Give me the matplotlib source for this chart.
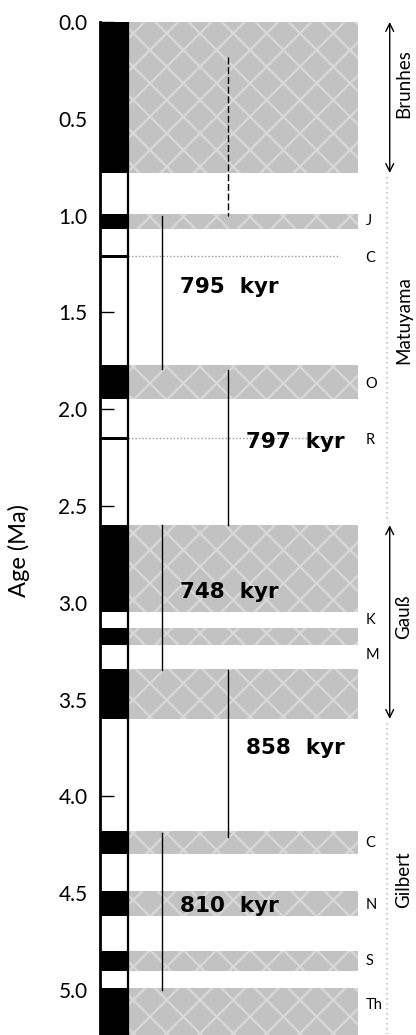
import matplotlib
matplotlib.use("Agg")
import matplotlib.pyplot as plt
from matplotlib.patches import Rectangle

# Normal-polarity chrons and subchrons (top, bottom) in Ma
normal_intervals = [
    (0.00, 0.78),   # Brunhes
    (0.99, 1.07),   # Jaramillo
    (1.77, 1.95),   # Olduvai
    (2.60, 3.05),   # Gauss
    (3.13, 3.22),
    (3.34, 3.60),
    (4.18, 4.30),   # Cochiti
    (4.49, 4.62),   # Nunivak
    (4.80, 4.90),   # Sidufjall
    (4.99, 5.25),   # Thvera
]
# Very short normal events drawn as thin bars with a dotted trace
short_events = [1.21, 2.15]

# Subchron initials on the right
subchron_labels = ["J", "C", "O", "R", "K", "M", "C", "N", "S", "Th"]
subchron_ages = [1.03, 1.22, 1.87, 2.16, 3.09, 3.27, 4.24, 4.56, 4.85, 5.08]

# Chron names and the spans of their brackets
chron_names = ["Brunhes", "Matuyama", "Gauß", "Gilbert"]
chron_spans = [(0.00, 0.78), (0.78, 2.60), (2.60, 3.60), (3.60, 5.25)]
chron_arrows = [True, False, True, False]
chron_text_ages = [0.32, 1.54, 3.07, 4.43]

# Cycle segments: start age (Ma), duration (kyr), column
cycle_starts = [1.00, 1.80, 2.60, 3.35, 4.19]
cycle_kyr = [795, 797, 748, 858, 810]
cycle_cols = [0, 1, 0, 1, 0]
# Incomplete youngest cycle (dashed)
open_cycle = (0.18, 1.00)

yticks = [0.0, 0.5, 1.0, 1.5, 2.0, 2.5, 3.0, 3.5, 4.0, 4.5, 5.0]

THIN = dict(family=["Lato", "DejaVu Sans"], fontweight="normal", color="black")

W, H = 416, 1035
fig = plt.figure(figsize=(W / 100, H / 100), dpi=100)
plt.rcParams["hatch.linewidth"] = 1.6

ax = fig.add_axes([100 / W, 0.0, 258 / W, (H - 22) / H])
ax.set_xlim(0, 1)
ax.set_ylim(5.233, 0)

col_w = 0.11
band_x0 = col_w
band_x1 = 1.0
col_x = [0.24, 0.495]
band_gray = "#c2c2c2"

# Shaded bands for normal polarity
for top, bot in normal_intervals:
    ax.add_patch(Rectangle((band_x0, top), band_x1 - band_x0, bot - top,
                           facecolor=band_gray, edgecolor="#d8d8d8",
                           hatch="x", linewidth=0, zorder=1))
    ax.add_patch(Rectangle((0, top), col_w, bot - top,
                           facecolor="black", edgecolor="none", zorder=3))

for age in short_events:
    ax.add_patch(Rectangle((0, age - 0.008), col_w, 0.016,
                           facecolor="black", edgecolor="none", zorder=3))
    ax.plot([band_x0, 0.93], [age, age], color="#999999", lw=1.0,
            ls=(0, (1, 1.5)), zorder=2)

# Column outline
ax.plot([col_w, col_w], [0, 5.233], color="black", lw=1.6, zorder=4)

# Cycle segments and their lengths
for start, kyr, c in zip(cycle_starts, cycle_kyr, cycle_cols):
    end = start + kyr / 1000.0
    ax.plot([col_x[c], col_x[c]], [start, end], color="black", lw=1.0, zorder=5)
    ax.text(col_x[c] + 0.07, (start + end) / 2 - 0.03, f"{kyr}  kyr",
            fontsize=15.5, fontweight="bold", ha="left", va="center", zorder=6)
ax.plot([col_x[1], col_x[1]], list(open_cycle), color="black", lw=1.0,
        ls=(0, (5, 2)), zorder=5)

# Subchron initials
for lab, age in zip(subchron_labels, subchron_ages):
    ax.text(1.03, age, lab, fontsize=10.5, ha="left", va="center",
            clip_on=False, **THIN)

# Chron brackets
ax_x = 1.123
for name, (top, bot), arrow, tage in zip(chron_names, chron_spans,
                                          chron_arrows, chron_text_ages):
    if arrow:
        ax.annotate("", xy=(ax_x, top), xytext=(ax_x, bot),
                    arrowprops=dict(arrowstyle="<->", lw=1.0, color="black",
                                    shrinkA=0, shrinkB=0,
                                    mutation_scale=14),
                    annotation_clip=False)
    else:
        ax.plot([ax_x - 0.01, ax_x - 0.01], [top + 0.02, bot - 0.02],
                color="#c4c4c4", lw=1.2, ls=(0, (1, 2)), clip_on=False)
    ax.text(ax_x + 0.055, tage, name, rotation=90, fontsize=13.5,
            ha="center", va="center", clip_on=False,
            bbox=dict(facecolor="white", edgecolor="none", pad=1), **THIN)

# Axis styling
for s in ["top", "right", "bottom"]:
    ax.spines[s].set_visible(False)
ax.spines["left"].set_linewidth(2.0)
ax.set_xticks([])
ax.set_yticks(yticks)
ax.set_yticklabels([f"{t:.1f}" for t in yticks], **THIN)
ax.tick_params(axis="y", direction="in", length=10, width=1.0,
               labelsize=15, pad=9)
ax.set_ylabel("Age (Ma)", fontsize=17, **THIN)
ax.yaxis.set_label_coords(-0.27, 0.478)

fig.savefig("out.png", dpi=100)
